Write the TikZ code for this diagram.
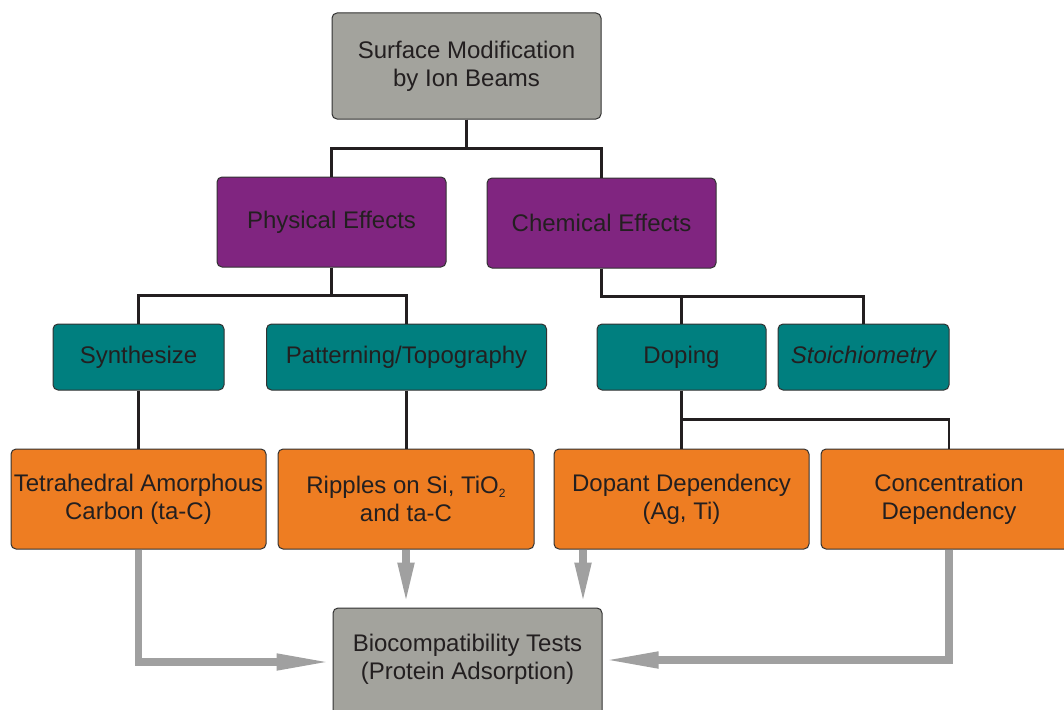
\documentclass[tikz,border=0pt]{standalone}
\usepackage{fontspec}
\setmainfont{Liberation Sans}
\usetikzlibrary{arrows.meta}
\definecolor{boxgray}{RGB}{163,163,157}
\definecolor{purp}{RGB}{128,37,128}
\definecolor{teal2}{RGB}{0,127,127}
\definecolor{orng}{RGB}{238,125,34}
\definecolor{txt}{RGB}{35,31,32}
\definecolor{bord}{RGB}{50,50,50}
\definecolor{agray}{RGB}{160,160,160}
\newcommand{\smallsub}[1]{\raisebox{-4pt}{\fontsize{12}{12}\selectfont #1}}
\begin{document}
\begin{tikzpicture}[x=1pt,y=-1pt,
  box/.style={draw=bord, line width=1pt, rounded corners=5pt, inner sep=0pt,
    text=txt, align=center, font=\fontsize{24}{28}\selectfont},
  label text/.style={inner sep=0pt, text=txt, align=center, font=\fontsize{24}{28}\selectfont},
  graybox/.style={box, fill=boxgray},
  purpbox/.style={box, fill=purp, minimum width=229pt, minimum height=90pt},
  tealbox/.style={box, fill=teal2, minimum height=66pt},
  orbox/.style={box, fill=orng, minimum height=100pt},
  conn/.style={draw=txt, line width=2.5pt},
  garrow/.style={draw=agray, line width=7.5pt, -{Triangle[length=42pt,width=15pt]}},
  harrow/.style={draw=agray, line width=7.5pt, -{Triangle[length=56pt,width=15pt]}}]
\useasboundingbox (0,0) rectangle (1064,709);
\clip (0,0) rectangle (1064,709);

% boxes
\node[graybox, minimum width=269pt, minimum height=106pt] (top) at (466.5,66) {Surface Modification\\by Ion Beams};
\node[purpbox] (phys) at (331.5,222) {Physical Effects};
\node[purpbox] (chem) at (601.5,223) {Chemical Effects};
\node[tealbox, minimum width=171pt] (synth) at (138.5,357) {Synthesize};
\node[tealbox, minimum width=280pt] (patt) at (406.5,357) {Patterning/Topography};
\node[tealbox, minimum width=169pt] (dope) at (681.5,357) {Doping};
\node[tealbox, minimum width=171pt] (stoich) at (863.5,357) {\itshape Stoichiometry};
\node[orbox, minimum width=255pt] (tet) at (138.5,499) {Tetrahedral Amorphous\\Carbon (ta-C)};
\node[orbox, minimum width=256pt] (rip) at (406,499) {Ripples on Si, TiO\smallsub{2}\\and ta-C};
\node[orbox, minimum width=255pt] (dop) at (681.5,499) {Dopant Dependency\\(Ag, Ti)};
\node[orbox, minimum width=256pt] (conc) at (949,499) {Concentration\\Dependency};
\node[graybox, minimum width=269pt, minimum height=122pt] (bio) at (467.5,669) {};
\node[label text] (biotxt) at (467.5,659) {Biocompatibility Tests\\(Protein Adsorption)};

% tree connectors
\draw[conn] (top.south) -- ++(0,29) -| (phys.north);
\draw[conn] (top.south) -- ++(0,29) -| (chem.north);
\draw[conn] (phys.south) -- ++(0,28) -| (synth.north);
\draw[conn] (phys.south) -- ++(0,28) -| (patt.north);
\draw[conn] (chem.south) -- ++(0,28) -| (dope.north);
\draw[conn] (chem.south) -- ++(0,28) -| (stoich.north);
\draw[conn] (synth.south) -- (tet.north);
\draw[conn] (patt.south) -- (patt.south |- rip.north);
\draw[conn] (dope.south) -- (dop.north);
\draw[conn] (dope.south) -- ++(0,29) -| (conc.north);

% gray arrows
\draw[harrow] (tet.south) |- ([yshift=7pt]bio.west);
\draw[garrow, shorten >=3pt] (rip.south) -- (rip.south |- bio.north);
\coordinate (dopa) at ([xshift=-98.5pt]dop.south);
\draw[garrow, shorten >=3pt] (dopa) -- (dopa |- bio.north);
\draw[harrow] (conc.south) |- ([yshift=9pt]bio.east);
\end{tikzpicture}
\end{document}
